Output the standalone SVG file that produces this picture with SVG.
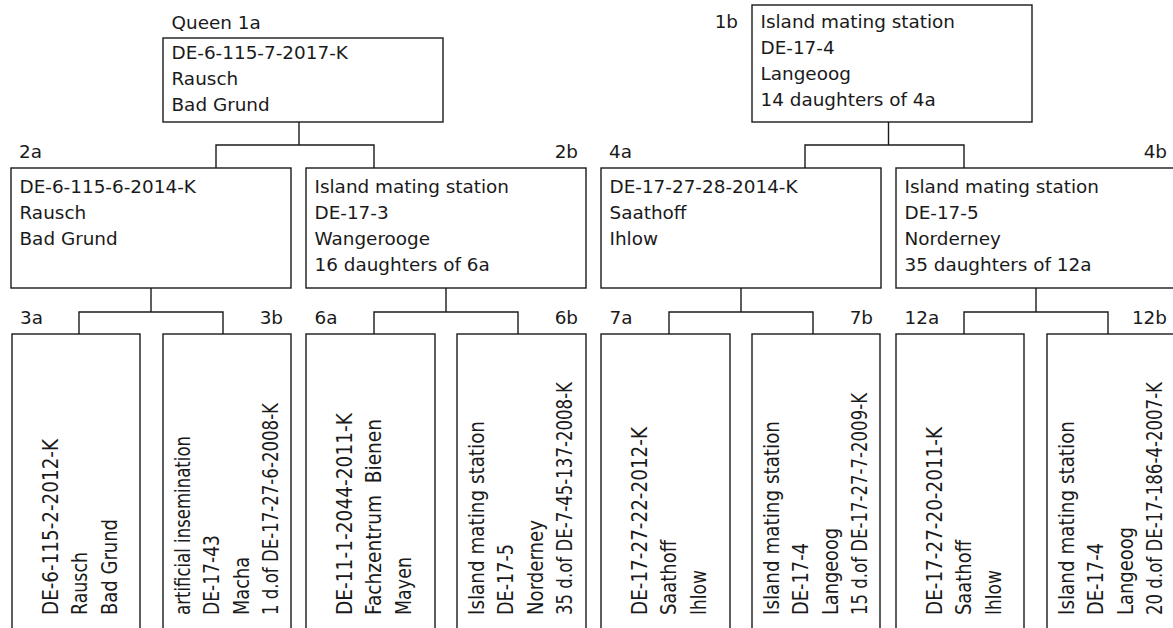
<svg xmlns="http://www.w3.org/2000/svg" width="1173" height="628" viewBox="0 0 1173 628">
<style>
text{font-family:"DejaVu Sans","Liberation Sans",sans-serif;fill:#1a1a1a;white-space:pre;font-size:18.4px}
.v text{font-size:20.5px}
.e{text-anchor:end}
.box{fill:#fff;stroke:#1a1a1a;stroke-width:1.4}
.con{fill:none;stroke:#1a1a1a;stroke-width:1.4}
</style>
<rect width="1173" height="628" fill="#fff"/>
<g id="connectors" class="con">
<path d="M299,122V145M216,168V145H374V168"/>
<path d="M888.5,122V145M805,168V145H964V168"/>
<path d="M151,288V312M79,334V312H223V334"/>
<path d="M446,288V312M374,334V312H518V334"/>
<path d="M741,288V312M669,334V312H813V334"/>
<path d="M1036,288V312M964,334V312H1108V334"/>
</g>
<g id="n1a">
<text x="171.5" y="29">Queen 1a</text>
<rect class="box" x="163" y="38" width="280" height="84"/>
<text x="171.5" y="59">DE-6-115-7-2017-K</text>
<text x="171.5" y="85">Rausch</text>
<text x="171.5" y="111">Bad Grund</text>
</g>
<g id="n1b">
<text class="e" x="738" y="28">1b</text>
<rect class="box" x="752" y="5" width="280" height="117"/>
<text x="760.5" y="28">Island mating station</text>
<text x="760.5" y="54">DE-17-4</text>
<text x="760.5" y="80">Langeoog</text>
<text x="760.5" y="106">14 daughters of 4a</text>
</g>
<g id="n2a">
<text x="19" y="158">2a</text>
<rect class="box" x="11" y="168" width="280" height="120"/>
<text x="19.5" y="193">DE-6-115-6-2014-K</text>
<text x="19.5" y="219">Rausch</text>
<text x="19.5" y="245">Bad Grund</text>
</g>
<g id="n2b">
<text class="e" x="578" y="158">2b</text>
<rect class="box" x="306" y="168" width="280" height="120"/>
<text x="314.5" y="193">Island mating station</text>
<text x="314.5" y="219">DE-17-3</text>
<text x="314.5" y="245">Wangerooge</text>
<text x="314.5" y="271">16 daughters of 6a</text>
</g>
<g id="n4a">
<text x="609" y="158">4a</text>
<rect class="box" x="601" y="168" width="280" height="120"/>
<text x="609.5" y="193">DE-17-27-28-2014-K</text>
<text x="609.5" y="219">Saathoff</text>
<text x="609.5" y="245">Ihlow</text>
</g>
<g id="n4b">
<text class="e" x="1167" y="158">4b</text>
<rect class="box" x="896" y="168" width="280" height="120"/>
<text x="904.5" y="193">Island mating station</text>
<text x="904.5" y="219">DE-17-5</text>
<text x="904.5" y="245">Norderney</text>
<text x="904.5" y="271">35 daughters of 12a</text>
</g>
<g id="n3a">
<text x="20" y="324">3a</text>
<rect class="box" x="12" y="334" width="128" height="310"/>
<g class="v" transform="translate(12,615) rotate(-90)">
<text y="45.5" textLength="176" lengthAdjust="spacingAndGlyphs">DE-6-115-2-2012-K</text>
<text y="75" textLength="63" lengthAdjust="spacingAndGlyphs">Rausch</text>
<text y="104.5" textLength="96" lengthAdjust="spacingAndGlyphs">Bad Grund</text>
</g>
</g>
<g id="n3b">
<text class="e" x="283" y="324">3b</text>
<rect class="box" x="163" y="334" width="128" height="310"/>
<g class="v" transform="translate(163,615) rotate(-90)">
<text y="26.5" textLength="179" lengthAdjust="spacingAndGlyphs">artificial insemination</text>
<text y="56" textLength="80" lengthAdjust="spacingAndGlyphs">DE-17-43</text>
<text y="85.5" textLength="58" lengthAdjust="spacingAndGlyphs">Macha</text>
<text y="115" textLength="212" lengthAdjust="spacingAndGlyphs">1 d.of DE-17-27-6-2008-K</text>
</g>
</g>
<g id="n6a">
<text x="314.5" y="324">6a</text>
<rect class="box" x="306" y="334" width="129" height="310"/>
<g class="v" transform="translate(306,615) rotate(-90)">
<text y="45.5" textLength="202" lengthAdjust="spacingAndGlyphs">DE-11-1-2044-2011-K</text>
<text y="75" textLength="196" lengthAdjust="spacingAndGlyphs">Fachzentrum  Bienen</text>
<text y="104.5" textLength="58" lengthAdjust="spacingAndGlyphs">Mayen</text>
</g>
</g>
<g id="n6b">
<text class="e" x="578" y="324">6b</text>
<rect class="box" x="457" y="334" width="129" height="310"/>
<g class="v" transform="translate(457,615) rotate(-90)">
<text y="26.5" textLength="194" lengthAdjust="spacingAndGlyphs">Island mating station</text>
<text y="56" textLength="71" lengthAdjust="spacingAndGlyphs">DE-17-5</text>
<text y="85.5" textLength="95" lengthAdjust="spacingAndGlyphs">Norderney</text>
<text y="115" textLength="233" lengthAdjust="spacingAndGlyphs">35 d.of DE-7-45-137-2008-K</text>
</g>
</g>
<g id="n7a">
<text x="609.5" y="324">7a</text>
<rect class="box" x="601" y="334" width="129" height="310"/>
<g class="v" transform="translate(601,615) rotate(-90)">
<text y="45.5" textLength="188" lengthAdjust="spacingAndGlyphs">DE-17-27-22-2012-K</text>
<text y="75" textLength="75" lengthAdjust="spacingAndGlyphs">Saathoff</text>
<text y="104.5" textLength="45" lengthAdjust="spacingAndGlyphs">Ihlow</text>
</g>
</g>
<g id="n7b">
<text class="e" x="873" y="324">7b</text>
<rect class="box" x="752" y="334" width="128" height="310"/>
<g class="v" transform="translate(752,615) rotate(-90)">
<text y="26.5" textLength="194" lengthAdjust="spacingAndGlyphs">Island mating station</text>
<text y="56" textLength="72" lengthAdjust="spacingAndGlyphs">DE-17-4</text>
<text y="85.5" textLength="87" lengthAdjust="spacingAndGlyphs">Langeoog</text>
<text y="115" textLength="222" lengthAdjust="spacingAndGlyphs">15 d.of DE-17-27-7-2009-K</text>
</g>
</g>
<g id="n12a">
<text x="904.5" y="324">12a</text>
<rect class="box" x="896" y="334" width="128" height="310"/>
<g class="v" transform="translate(896,615) rotate(-90)">
<text y="45.5" textLength="188" lengthAdjust="spacingAndGlyphs">DE-17-27-20-2011-K</text>
<text y="75" textLength="75" lengthAdjust="spacingAndGlyphs">Saathoff</text>
<text y="104.5" textLength="45" lengthAdjust="spacingAndGlyphs">Ihlow</text>
</g>
</g>
<g id="n12b">
<text class="e" x="1167" y="324">12b</text>
<rect class="box" x="1047" y="334" width="129" height="310"/>
<g class="v" transform="translate(1047,615) rotate(-90)">
<text y="26.5" textLength="194" lengthAdjust="spacingAndGlyphs">Island mating station</text>
<text y="56" textLength="72" lengthAdjust="spacingAndGlyphs">DE-17-4</text>
<text y="85.5" textLength="88" lengthAdjust="spacingAndGlyphs">Langeoog</text>
<text y="115" textLength="233" lengthAdjust="spacingAndGlyphs">20 d.of DE-17-186-4-2007-K</text>
</g>
</g>
</svg>
